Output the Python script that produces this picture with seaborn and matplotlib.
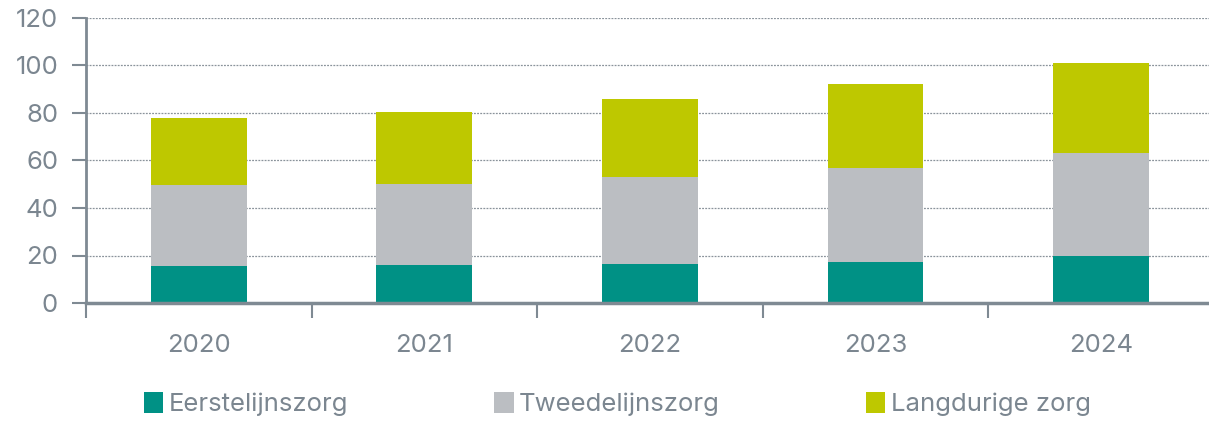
import matplotlib
matplotlib.use("Agg")
import matplotlib.pyplot as plt
import seaborn as sns
import pandas as pd
import numpy as np
from matplotlib.patches import Patch
from matplotlib.ticker import FixedLocator

years = ["2020", "2021", "2022", "2023", "2024"]
eerstelijnszorg = [15.6, 15.8, 16.3, 17.4, 19.8]
tweedelijnszorg = [34.2, 34.3, 36.9, 39.6, 43.2]
langdurige_zorg = [28.0, 30.3, 32.5, 35.0, 38.2]
series_names = ["Eerstelijnszorg", "Tweedelijnszorg", "Langdurige zorg"]
yticks = [0, 20, 40, 60, 80, 100, 120]

colors = ["#009185", "#bbbec2", "#bec800"]
text_color = "#7b8690"
axis_color = "#7f8a93"

sns.set_theme(style="white")
plt.rcParams["font.family"] = ["Inter", "DejaVu Sans"]
plt.rcParams["font.weight"] = "normal"

df = pd.DataFrame({"jaar": years, "e": eerstelijnszorg, "t": tweedelijnszorg, "l": langdurige_zorg})
df["c1"] = df["e"]
df["c2"] = df["e"] + df["t"]
df["c3"] = df["c2"] + df["l"]

fig = plt.figure(figsize=(12.09, 4.21), dpi=100)
ax = fig.add_axes([86/1209, 1-303/421, 1-86/1209 + 0.004, (303-18)/421])

for col, c in zip(["c3", "c2", "c1"], colors[::-1]):
    sns.barplot(data=df, x="jaar", y=col, color=c, width=0.425, ax=ax,
                saturation=1, edgecolor="none", linewidth=0, zorder=3)

ax.set_ylim(0, 120)
ax.set_xlim(-0.5, 4.5)
ax.set_yticks(yticks)
ax.set_xlabel("")
ax.set_ylabel("")
ax.tick_params(axis="y", labelsize=18.5, colors=text_color, length=10, width=1.5, pad=10, left=True)
ax.tick_params(axis="y", labelcolor=text_color)
ax.tick_params(axis="x", which="major", labelsize=18.5, labelcolor=text_color, length=0, pad=22)
ax.xaxis.set_minor_locator(FixedLocator(np.arange(-0.5, 5.0, 1.0)))
ax.tick_params(axis="x", which="minor", length=11, width=1.5, color=axis_color, bottom=True)
ax.tick_params(axis="y", color=axis_color)

for y in yticks[1:]:
    ax.axhline(y, color="#8a939b", lw=0.9, ls=(0, (1.5, 1)), zorder=1)

sns.despine(ax=ax, top=True, right=True)
ax.spines["left"].set_color(axis_color)
ax.spines["left"].set_linewidth(2)
ax.spines["bottom"].set_color(axis_color)
ax.spines["bottom"].set_linewidth(2.5)
ax.spines["bottom"].set_zorder(4)

handles = [Patch(facecolor=c, edgecolor="none") for c in colors]
leg = fig.legend(handles, series_names, loc="center left", bbox_to_anchor=(144/1209, 0.04),
                 ncol=3, frameon=False, fontsize=18.5, handlelength=0.75, handleheight=0.9,
                 handletextpad=0.2, columnspacing=5.7, borderaxespad=0, borderpad=0)
for t in leg.get_texts():
    t.set_color(text_color)

fig.savefig("out.png", dpi=100)
